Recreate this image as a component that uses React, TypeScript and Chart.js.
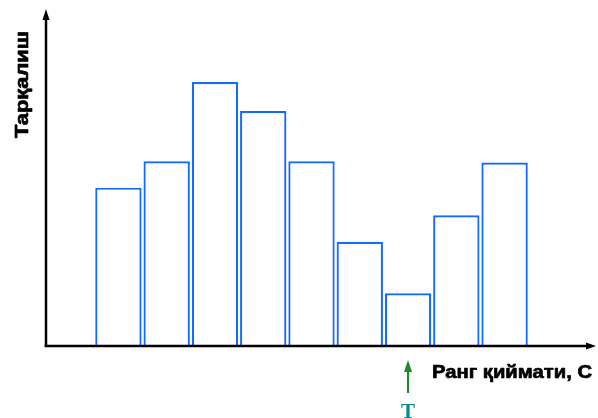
import React, { useEffect, useRef } from "react";
import { Chart, registerables } from "chart.js";

Chart.register(...registerables);

const categories: string[] = ["", "1", "2", "3", "4", "5", "6", "7", "8", "9", ""];
const frequencies: (number | null)[] = [null, 6, 7, 10, 8.9, 7, 3.95, 2, 4.95, 6.95, null];
const yAxisTitle = "Тарқалиш";
const xAxisTitle = "Ранг қиймати, С";
const markerLabel = "T";
const markerCategory = "7";

const axesPlugin = {
  id: "arrowAxes",
  afterDraw(chart: any) {
    const ctx = chart.ctx as CanvasRenderingContext2D;
    const area = chart.chartArea;
    const xs = chart.scales.x;
    ctx.save();
    // axes
    ctx.strokeStyle = "#000";
    ctx.fillStyle = "#000";
    ctx.lineWidth = 2.5;
    ctx.beginPath();
    ctx.moveTo(area.left, area.bottom);
    ctx.lineTo(area.left, area.top + 6);
    ctx.moveTo(area.left - 1.5, area.bottom);
    ctx.lineTo(area.right + 12, area.bottom);
    ctx.stroke();
    // y arrowhead
    ctx.beginPath();
    ctx.moveTo(area.left, area.top - 1);
    ctx.lineTo(area.left - 3.5, area.top + 10);
    ctx.lineTo(area.left + 3.5, area.top + 10);
    ctx.closePath();
    ctx.fill();
    // x arrowhead
    const xEnd = area.right + 19;
    ctx.beginPath();
    ctx.moveTo(xEnd, area.bottom);
    ctx.lineTo(xEnd - 10, area.bottom - 3.5);
    ctx.lineTo(xEnd - 10, area.bottom + 3.5);
    ctx.closePath();
    ctx.fill();

    // x title
    ctx.font = "bold 19px 'Liberation Sans', Arial, sans-serif";
    ctx.textBaseline = "alphabetic";
    ctx.textAlign = "left";
    ctx.lineWidth = 0.7;
    ctx.lineJoin = "round";
    const wX = ctx.measureText(xAxisTitle).width;
    ctx.save();
    ctx.translate(432, area.bottom + 32);
    ctx.scale(160 / wX, 1);
    ctx.fillText(xAxisTitle, 0, 0);
    ctx.strokeText(xAxisTitle, 0, 0);
    ctx.restore();

    // y title (rotated)
    const wY = ctx.measureText(yAxisTitle).width;
    ctx.save();
    ctx.translate(27.5, 138);
    ctx.rotate(-Math.PI / 2);
    ctx.scale(107 / wY, 1);
    ctx.fillText(yAxisTitle, 0, 0);
    ctx.strokeText(yAxisTitle, 0, 0);
    ctx.restore();

    // marker arrow
    const idx = categories.indexOf(markerCategory);
    const mx = xs.getPixelForValue(idx);
    ctx.strokeStyle = "#1a8a2a";
    ctx.fillStyle = "#1a8a2a";
    ctx.lineWidth = 2.2;
    ctx.beginPath();
    ctx.moveTo(mx, area.bottom + 24);
    ctx.lineTo(mx, area.bottom + 47);
    ctx.stroke();
    ctx.beginPath();
    ctx.moveTo(mx, area.bottom + 14);
    ctx.lineTo(mx - 4, area.bottom + 26);
    ctx.lineTo(mx + 4, area.bottom + 26);
    ctx.closePath();
    ctx.fill();
    // marker label
    ctx.fillStyle = "#0a8a8a";
    ctx.font = "bold 21px 'Liberation Serif', 'Times New Roman', serif";
    ctx.textAlign = "center";
    ctx.textBaseline = "alphabetic";
    ctx.fillText(markerLabel, mx, area.bottom + 72);
    ctx.restore();
  },
};

export default function App() {
  const ref = useRef<HTMLCanvasElement | null>(null);
  useEffect(() => {
    document.body.style.margin = "0";
    if (!ref.current) return;
    const chart = new Chart(ref.current, {
      type: "bar",
      data: {
        labels: categories,
        datasets: [
          {
            data: frequencies as any,
            backgroundColor: "#ffffff",
            borderColor: "rgb(20,105,255)",
            borderWidth: 2.2,
            borderSkipped: "bottom",
            barPercentage: 0.96,
            categoryPercentage: 1,
          },
        ],
      },
      options: {
        animation: false,
        responsive: false,
        devicePixelRatio: 1,
        layout: { padding: { left: 46, top: 10, right: 21, bottom: 72 } },
        scales: {
          x: { display: false },
          y: { display: false, min: 0, max: 12.73 },
        },
        plugins: { legend: { display: false }, tooltip: { enabled: false } },
      },
      plugins: [axesPlugin],
    });
    return () => chart.destroy();
  }, []);
  return (
    <div style={{ width: 598, height: 418, background: "#fff" }}>
      <canvas ref={ref} width={598} height={418} style={{ display: "block" }} />
    </div>
  );
}
